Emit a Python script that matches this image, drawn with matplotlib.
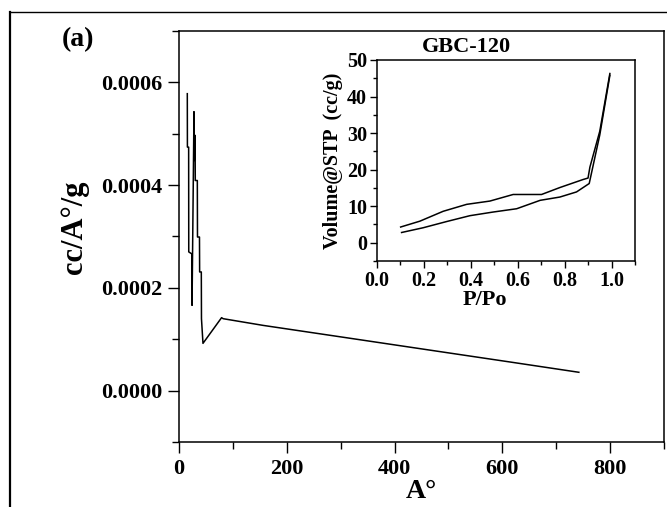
import matplotlib
matplotlib.use("Agg")
import matplotlib.pyplot as plt
from matplotlib.ticker import MultipleLocator, FixedLocator
from matplotlib.lines import Line2D

# ---------------- data ----------------
pore_diam = [15.4, 15.6, 17.9, 18.1, 24.0, 24.2, 27.8, 28.3, 29.8, 30.2, 34.0, 34.3,
             38.0, 38.3, 41.4, 41.7, 44.5, 79.0, 82.0, 156.0, 304.0, 471.0, 619.0, 742.0]
pore_vol = [5.78e-4, 4.74e-4, 4.74e-4, 2.70e-4, 2.66e-4, 1.66e-4, 5.43e-4, 4.48e-4,
            4.97e-4, 4.09e-4, 4.09e-4, 2.99e-4, 2.99e-4, 2.31e-4, 2.31e-4, 1.40e-4,
            0.92e-4, 1.42e-4, 1.40e-4, 1.27e-4, 1.04e-4, 0.78e-4, 0.55e-4, 0.357e-4]

ads_p = [0.106, 0.198, 0.298, 0.397, 0.496, 0.596, 0.696, 0.78, 0.851, 0.905, 0.95, 0.993]
ads_v = [2.8, 4.1, 5.8, 7.4, 8.4, 9.3, 11.6, 12.5, 13.9, 16.2, 29.5, 45.8]
des_p = [0.993, 0.95, 0.908, 0.90, 0.879, 0.78, 0.702, 0.581, 0.482, 0.383, 0.283, 0.184, 0.102]
des_v = [46.3, 30.5, 20.7, 17.7, 17.3, 15.1, 13.2, 13.2, 11.4, 10.5, 8.6, 5.9, 4.3]

main_xticks = [0, 200, 400, 600, 800]
main_yticks = [0.0, 0.0002, 0.0004, 0.0006]
main_yticklabels = ["0.0000", "0.0002", "0.0004", "0.0006"]
inset_xticks = [0.0, 0.2, 0.4, 0.6, 0.8, 1.0]
inset_yticks = [0, 10, 20, 30, 40, 50]

# ---------------- figure ----------------
W, H = 667, 507
fig = plt.figure(figsize=(W / 100, H / 100), dpi=100)
serif = ["Liberation Serif", "DejaVu Serif"]
plt.rcParams["font.family"] = serif
plt.rcParams["font.weight"] = "bold"

def fx(px):
    return px / W

def fy(py):
    return 1 - py / H

# outer frame
fig.add_artist(Line2D([fx(10), fx(10)], [fy(12), fy(507)], color="black", lw=1.6))
fig.add_artist(Line2D([fx(10), fx(667)], [fy(12), fy(12)], color="black", lw=1.0))

ax = fig.add_axes([fx(179), fy(442), fx(664) - fx(179), fy(31) - fy(442)])
ax.plot(pore_diam, pore_vol, color="black", lw=1.1)
ax.set_xlim(0, 900)
ax.set_ylim(-0.0001, 0.0007)
ax.xaxis.set_major_locator(FixedLocator(main_xticks))
ax.xaxis.set_minor_locator(MultipleLocator(100))
ax.yaxis.set_major_locator(FixedLocator(main_yticks))
ax.yaxis.set_minor_locator(MultipleLocator(0.0001))
ax.set_yticklabels(main_yticklabels)
ax.set_xticklabels([str(v) for v in main_xticks])
ax.tick_params(which="major", direction="out", length=8, width=1.0, labelsize=16, pad=4)
ax.tick_params(which="minor", direction="out", length=5, width=1.0)
ax.tick_params(top=False, right=False, which="both")
for s in ax.spines.values():
    s.set_linewidth(1.1)
for lab in ax.get_xticklabels() + ax.get_yticklabels():
    lab.set_fontweight("bold")
ax.set_xlabel("A°", fontsize=20, fontweight="bold", labelpad=0)
fig.text(fx(75), fy(227), "cc/A°/g", fontsize=22, fontweight="bold", rotation=90,
         ha="center", va="center")
fig.text(fx(62), fy(46), "(a)", fontsize=20, fontweight="bold", ha="left", va="baseline")

# inset
axi = fig.add_axes([fx(376.7), fy(261), fx(635) - fx(376.7), fy(60) - fy(261)])
axi.plot(ads_p, ads_v, color="black", lw=1.1)
axi.plot(des_p, des_v, color="black", lw=1.1)
axi.set_xlim(0, 1.1)
axi.set_ylim(-5, 50)
axi.xaxis.set_major_locator(FixedLocator(inset_xticks))
axi.xaxis.set_minor_locator(MultipleLocator(0.1))
axi.yaxis.set_major_locator(FixedLocator(inset_yticks))
axi.yaxis.set_minor_locator(MultipleLocator(5))
axi.set_xticklabels([f"{v:.1f}" for v in inset_xticks])
axi.set_yticklabels([str(v) for v in inset_yticks])
axi.tick_params(which="major", direction="out", length=5, width=1.0, labelsize=14.5, pad=2)
axi.tick_params(which="minor", direction="out", length=3, width=1.0)
axi.tick_params(top=False, right=False, which="both")
for s in axi.spines.values():
    s.set_linewidth(1.1)
for lab in axi.get_xticklabels() + axi.get_yticklabels():
    lab.set_fontweight("bold")
axi.set_ylabel("Volume@STP  (cc/g)", fontsize=14.5, fontweight="bold", labelpad=3)
fig.text(fx(485), fy(300), "P/Po", fontsize=16, fontweight="bold", ha="center", va="center")
fig.text(fx(466), fy(47), "GBC-120", fontsize=16, fontweight="bold", ha="center", va="center")

fig.savefig("out.png", dpi=100)
